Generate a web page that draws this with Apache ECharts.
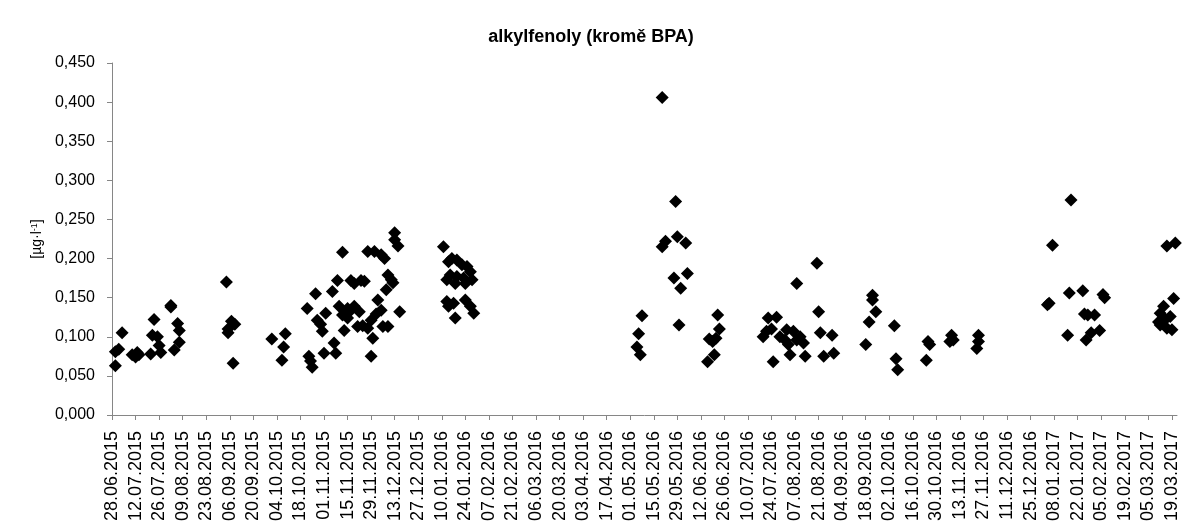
<!DOCTYPE html>
<html>
<head>
<meta charset="utf-8">
<script src="https://cdn.jsdelivr.net/npm/echarts@6/dist/echarts.min.js"></script>
<style>
  html, body { margin: 0; padding: 0; background: #fff; }
  #chart { width: 1182px; height: 528px; }
</style>
</head>
<body>
<div id="chart"></div>
<script>
// Sampling dates on the x axis, every 14 days from 28.06.2015
const tickLabels = [
  '28.06.2015', '12.07.2015', '26.07.2015', '09.08.2015', '23.08.2015', '06.09.2015',
  '20.09.2015', '04.10.2015', '18.10.2015', '01.11.2015', '15.11.2015', '29.11.2015',
  '13.12.2015', '27.12.2015', '10.01.2016', '24.01.2016', '07.02.2016', '21.02.2016',
  '06.03.2016', '20.03.2016', '03.04.2016', '17.04.2016', '01.05.2016', '15.05.2016',
  '29.05.2016', '12.06.2016', '26.06.2016', '10.07.2016', '24.07.2016', '07.08.2016',
  '21.08.2016', '04.09.2016', '18.09.2016', '02.10.2016', '16.10.2016', '30.10.2016',
  '13.11.2016', '27.11.2016', '11.12.2016', '25.12.2016', '08.01.2017', '22.01.2017',
  '05.02.2017', '19.02.2017', '05.03.2017', '19.03.2017'
];
const tickStepDays = 14;

// Sample day (days since 28.06.2015) and alkylphenol concentration [µg/l]
const sampleDays2015 = [
  2, 4, 2, 6, 12, 14, 15, 16, 25, 23, 24, 27, 28, 29, 35, 35, 39, 40, 40, 37,
  68, 71, 73, 69, 69, 72,
  95, 103, 102, 101,
  116, 121, 117, 118, 119, 122, 124, 125, 127, 126,
  131, 134, 137, 133, 132, 135, 137, 138, 140, 140,
  142, 142, 144, 144, 147, 148, 150, 146, 149, 152, 155, 154,
  152, 156, 160, 162, 158, 160, 154, 157, 161, 164, 166, 167, 163, 168, 168, 170, 171, 164
];
const values2015 = [
  0.081, 0.084, 0.063, 0.105, 0.077, 0.074, 0.080, 0.077, 0.122, 0.078, 0.102, 0.100, 0.089, 0.080, 0.140, 0.138, 0.117, 0.108, 0.093, 0.083,
  0.170, 0.120, 0.116, 0.110, 0.105, 0.066,
  0.097, 0.104, 0.087, 0.070,
  0.136, 0.155, 0.075, 0.069, 0.061, 0.121, 0.116, 0.107, 0.130, 0.079,
  0.158, 0.172, 0.208, 0.079, 0.092, 0.139, 0.128, 0.108, 0.136, 0.124,
  0.134, 0.172, 0.168, 0.139, 0.132, 0.172, 0.171, 0.113, 0.114, 0.111, 0.098, 0.075,
  0.209, 0.209, 0.205, 0.200, 0.147, 0.134, 0.121, 0.129, 0.113, 0.179, 0.173, 0.169, 0.160, 0.233, 0.224, 0.216, 0.132, 0.113
];

const sampleDays2016 = [
  197, 200, 202, 205, 208, 211, 213, 214, 199, 201, 205, 209, 210, 204, 199, 203, 210, 213, 215, 204, 200,
  315, 313, 312, 314, 327, 329, 327, 335, 336, 341, 334, 342, 338, 337,
  360, 361, 355, 357, 358, 354, 359,
  390, 395, 387, 389, 392, 393, 397, 401, 405, 400, 402, 403, 409, 411, 412, 407, 407,
  419, 420, 421, 428, 429, 423,
  448, 450, 452, 452, 454, 465, 466, 467, 485, 486, 484, 499, 500, 498, 515, 515, 514
];
const values2016 = [
  0.215, 0.196, 0.200, 0.198, 0.192, 0.190, 0.183, 0.173, 0.173, 0.179, 0.177, 0.175, 0.168, 0.168, 0.145, 0.143, 0.147, 0.139, 0.130, 0.124, 0.139,
  0.127, 0.104, 0.087, 0.077, 0.406, 0.222, 0.215, 0.273, 0.228, 0.220, 0.175, 0.181, 0.162, 0.115,
  0.128, 0.110, 0.097, 0.094, 0.077, 0.068, 0.098,
  0.124, 0.125, 0.100, 0.107, 0.110, 0.068, 0.100, 0.109, 0.107, 0.096, 0.090, 0.077, 0.100, 0.092, 0.075, 0.096, 0.168,
  0.194, 0.132, 0.105, 0.102, 0.079, 0.075,
  0.090, 0.119, 0.153, 0.147, 0.132, 0.114, 0.072, 0.058, 0.094, 0.090, 0.070, 0.102, 0.096, 0.094, 0.102, 0.094, 0.085
];

const sampleDays2017 = [
  570, 559, 557, 556, 569, 577, 589, 590, 578, 580, 584, 568, 579, 582, 587,
  627, 632, 631, 625, 623, 622, 626, 629, 627, 630, 623
];
const values2017 = [
  0.275, 0.217, 0.143, 0.141, 0.156, 0.159, 0.154, 0.150, 0.129, 0.128, 0.128, 0.102, 0.096, 0.105, 0.108,
  0.216, 0.220, 0.149, 0.139, 0.130, 0.119, 0.122, 0.126, 0.111, 0.109, 0.115
];

const FONT = "'Liberation Sans', Arial, sans-serif";
const AXIS_GREY = '#868686';

function pairs(days, vals) {
  return days.map((d, i) => [d, vals[i]]);
}
const points = [].concat(
  pairs(sampleDays2015, values2015),
  pairs(sampleDays2016, values2016),
  pairs(sampleDays2017, values2017)
);
const tickValues = tickLabels.map((_, i) => i * tickStepDays);

const chart = echarts.init(document.getElementById('chart'), null, { renderer: 'canvas' });
chart.setOption({
  animation: false,
  backgroundColor: '#ffffff',
  title: {
    text: 'alkylfenoly (kromě BPA)',
    left: 'center',
    top: 23,
    textStyle: { fontFamily: FONT, fontWeight: 'bold', fontSize: 18, color: '#000' }
  },
  grid: { left: 112, right: 5, top: 63, bottom: 113, containLabel: false },
  xAxis: {
    type: 'value',
    min: 0,
    max: 633,
    splitLine: { show: false },
    axisLine: { show: true, lineStyle: { color: AXIS_GREY, width: 1 } },
    axisTick: { show: true, customValues: tickValues, length: 5, lineStyle: { color: AXIS_GREY } },
    axisLabel: {
      customValues: tickValues,
      rotate: 90,
      margin: 16,
      fontFamily: FONT,
      fontSize: 18,
      color: '#000',
      formatter: v => tickLabels[Math.round(v / tickStepDays)] || ''
    }
  },
  yAxis: {
    type: 'value',
    min: 0,
    max: 0.45,
    interval: 0.05,
    name: '[µg·l{sup|-1}]',
    nameLocation: 'middle',
    nameRotate: 90,
    nameGap: 55,
    nameTextStyle: {
      fontFamily: FONT, fontSize: 14, color: '#000',
      rich: { sup: { fontFamily: FONT, fontSize: 9, verticalAlign: 'top', color: '#000' } }
    },
    splitLine: { show: false },
    axisLine: { show: true, lineStyle: { color: AXIS_GREY, width: 1 } },
    axisTick: { show: true, length: 5, lineStyle: { color: AXIS_GREY } },
    axisLabel: {
      margin: 17,
      fontFamily: FONT,
      fontSize: 16,
      color: '#000',
      formatter: v => v.toFixed(3).replace('.', ',')
    }
  },
  series: [{
    type: 'scatter',
    data: points,
    symbol: 'diamond',
    symbolSize: 13,
    itemStyle: { color: '#000', opacity: 1 },
    clip: false
  }]
});
</script>
</body>
</html>
